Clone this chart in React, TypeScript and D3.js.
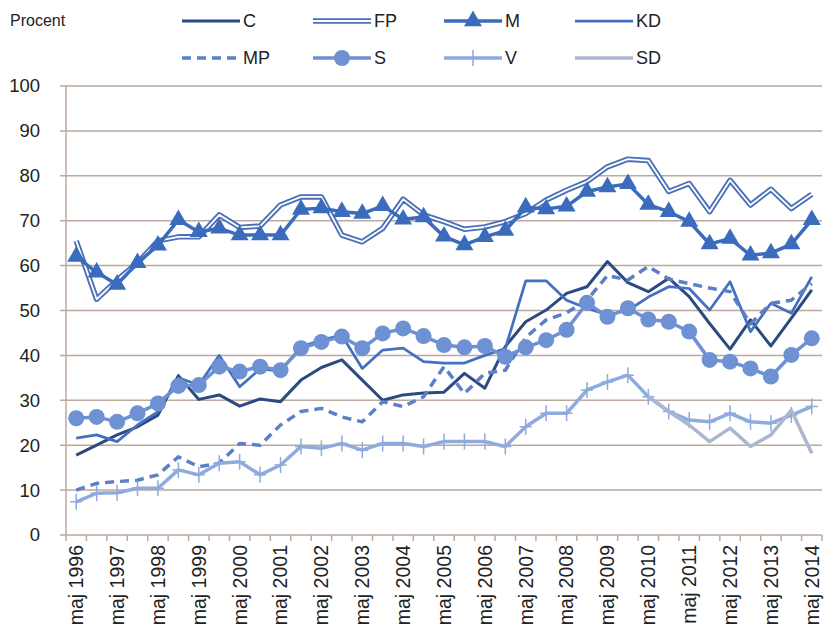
import * as d3 from "d3";
import React, { useEffect, useRef } from "react";

// halvårsmätningar, maj 1996 - maj 2014
const years = d3.range(1996, 2015);
const periods = years.flatMap((y) => (y < 2014 ? [`maj ${y}`, `nov ${y}`] : [`maj ${y}`]));

const C = [17.8, 20, 22.3, 24.1, 26.7, 35.5, 30.2, 31.2, 28.7, 30.3, 29.7, 34.5, 37.3, 39, 34.5, 30, 31.2, 31.6, 31.8, 36, 32.7, 42, 47.5, 50.1, 53.8, 55.3, 60.9, 56.2, 54.2, 57.2, 53.1, 47.1, 41.4, 47.9, 42.1, 48.3, 54.6];
const FP = [65.5, 52.5, 56.8, 60.6, 65.5, 66.4, 66.4, 71.3, 68.5, 68.8, 73.5, 75.3, 75.3, 66.8, 65.3, 68.3, 74.8, 71.3, 69.8, 68.1, 68.6, 69.8, 71.6, 74.6, 76.8, 78.7, 82, 83.7, 83.4, 76.5, 78.3, 72, 79, 73.5, 77, 72.7, 75.9];
const M = [62, 58.5, 55.8, 60.6, 64.5, 70.2, 67.5, 68.3, 66.8, 66.8, 66.8, 72.5, 72.8, 72, 71.6, 73.3, 70.3, 70.8, 66.5, 64.6, 66.4, 67.8, 73, 72.6, 73.2, 76.5, 77.5, 78.2, 73.6, 72, 69.8, 64.8, 66, 62.3, 62.8, 64.8, 70.2];
const KD = [21.6, 22.3, 20.8, 24.5, 27.5, 35, 33.4, 40, 33, 37, 36.5, 41.9, 43.4, 44.5, 37.1, 41.2, 41.6, 38.6, 38.3, 38.3, 40, 41.5, 56.6, 56.6, 52.3, 50.5, 49, 50, 53, 55.3, 54.9, 50.1, 56.4, 45.3, 51.6, 49.4, 57.5];
const MP = [10, 11.5, 11.9, 12.2, 13.4, 17.4, 15.2, 16, 20.4, 20, 24.5, 27.5, 28.2, 26.3, 25.2, 29.7, 28.6, 30.8, 37.5, 31.5, 36, 36.7, 44, 47.9, 49.5, 52.3, 57.8, 56.8, 59.8, 57, 56, 55, 54.2, 47, 51.6, 52.3, 56];
const S = [26, 26.3, 25.2, 27.1, 29.3, 33.2, 33.4, 37.5, 36.4, 37.5, 36.7, 41.6, 43, 44.2, 41.6, 44.9, 46, 44.3, 42.3, 41.8, 42.1, 39.7, 41.8, 43.4, 45.7, 51.7, 48.6, 50.5, 48, 47.5, 45.3, 39, 38.6, 37.1, 35.3, 40.1, 43.8];
const V = [7.4, 9.3, 9.4, 10.4, 10.4, 14.5, 13.4, 16, 16.3, 13.4, 15.6, 19.7, 19.3, 20.4, 18.9, 20.4, 20.4, 19.7, 20.8, 20.8, 20.8, 19.7, 24.1, 27.1, 27.1, 32.3, 34.1, 35.6, 30.8, 27.5, 25.6, 25.2, 27.1, 25.2, 24.9, 26.7, 28.6];
// SD mäts från maj 2010
const SD = [...Array(28).fill(null), 30.8, 27.5, 24.5, 20.8, 23.8, 19.7, 22.3, 27.8, 18.2];

const yTicks = [0, 10, 20, 30, 40, 50, 60, 70, 80, 90, 100];

const series = [
  { name: "C", values: C, color: "#2c4a80", width: 3 },
  { name: "FP", values: FP, color: "#4a70b8", width: 5.5, double: true },
  { name: "M", values: M, color: "#3a6bbd", width: 3.5, marker: "triangle" },
  { name: "KD", values: KD, color: "#4470bf", width: 2.75 },
  { name: "MP", values: MP, color: "#5a80c8", width: 3.5, dash: "9,6" },
  { name: "S", values: S, color: "#6d91d2", width: 3.5, marker: "circle" },
  { name: "V", values: V, color: "#8eaade", width: 3.5, marker: "plus" },
  { name: "SD", values: SD, color: "#aab7cf", width: 3.5 },
];

const width = 824;
const height = 639;
const margin = { top: 86, right: 2, bottom: 104, left: 66 };
const font = "'Liberation Sans', Arial, sans-serif";
const gridColor = "#bba99f";

export default function App() {
  const ref = useRef(null);

  useEffect(() => {
    document.body.style.margin = "0";
    const svg = d3.select(ref.current);
    svg.selectAll("*").remove();

    const x = d3
      .scaleBand()
      .domain(periods)
      .range([margin.left, width - margin.right]);
    const cx = (d) => x(d) + x.bandwidth() / 2;

    const y = d3
      .scaleLinear()
      .domain([0, 100])
      .range([height - margin.bottom, margin.top]);

    // gridlines + y labels
    const grid = svg.append("g");
    grid
      .selectAll("line")
      .data(yTicks)
      .join("line")
      .attr("x1", margin.left - 6)
      .attr("x2", width - margin.right)
      .attr("y1", (d) => y(d))
      .attr("y2", (d) => y(d))
      .attr("stroke", gridColor)
      .attr("stroke-width", 1.5);
    grid
      .selectAll("text")
      .data(yTicks)
      .join("text")
      .attr("x", 40)
      .attr("y", (d) => y(d))
      .attr("dy", "0.35em")
      .attr("text-anchor", "end")
      .attr("font-family", font)
      .attr("font-size", 18.5)
      .attr("fill", "#222")
      .text((d) => d);

    // y axis line
    svg
      .append("line")
      .attr("x1", margin.left)
      .attr("x2", margin.left)
      .attr("y1", y(100))
      .attr("y2", y(0))
      .attr("stroke", gridColor)
      .attr("stroke-width", 1.5);

    // x axis ticks + labels
    const xAxis = svg.append("g");
    xAxis
      .selectAll("line")
      .data(periods.concat(["end"]))
      .join("line")
      .attr("x1", (d, i) => margin.left + i * x.step())
      .attr("x2", (d, i) => margin.left + i * x.step())
      .attr("y1", y(0))
      .attr("y2", y(0) + 6)
      .attr("stroke", gridColor)
      .attr("stroke-width", 1.5);
    xAxis
      .selectAll("text")
      .data(periods.filter((p) => p.startsWith("maj")))
      .join("text")
      .attr("transform", (d) => `translate(${cx(d)},${y(0) + 10}) rotate(-90)`)
      .attr("dy", "0.35em")
      .attr("text-anchor", "end")
      .attr("font-family", font)
      .attr("font-size", 19.5)
      .attr("fill", "#222")
      .text((d) => d);

    const line = d3
      .line()
      .defined((d) => d != null)
      .x((d, i) => cx(periods[i]))
      .y((d) => y(d));

    const drawMarker = (g, type, color, px, py) => {
      if (type === "triangle") {
        g.append("path")
          .attr("d", d3.symbol(d3.symbolTriangle, 140)())
          .attr("transform", `translate(${px},${py})`)
          .attr("fill", color);
      } else if (type === "circle") {
        g.append("circle")
          .attr("cx", px)
          .attr("cy", py)
          .attr("r", 8)
          .attr("fill", color);
      } else if (type === "plus") {
        g.append("path")
          .attr("d", `M${px - 6},${py}H${px + 6}M${px},${py - 8}V${py + 8}`)
          .attr("stroke", color)
          .attr("stroke-width", 1.5);
      }
    };

    const plot = svg.append("g");
    series.forEach((s) => {
      const g = plot.append("g");
      g.append("path")
        .attr("d", line(s.values))
        .attr("fill", "none")
        .attr("stroke", s.color)
        .attr("stroke-width", s.width)
        .attr("stroke-dasharray", s.dash || null)
        .attr("stroke-linejoin", "round");
      if (s.double) {
        g.append("path")
          .attr("d", line(s.values))
          .attr("fill", "none")
          .attr("stroke", "#fff")
          .attr("stroke-width", 1.8)
          .attr("stroke-linejoin", "round");
      }
      if (s.marker) {
        s.values.forEach((v, i) => {
          if (v != null) drawMarker(g, s.marker, s.color, cx(periods[i]), y(v));
        });
      }
    });

    // legend
    svg
      .append("text")
      .attr("x", 10)
      .attr("y", 20)
      .attr("dy", "0.35em")
      .attr("font-family", font)
      .attr("font-size", 16)
      .attr("fill", "#222")
      .text("Procent");

    const legend = svg.append("g");
    series.forEach((s, i) => {
      const lx = 182 + (i % 4) * 131;
      const ly = i < 4 ? 21 : 58;
      const g = legend.append("g");
      g.append("line")
        .attr("x1", lx)
        .attr("x2", lx + 58)
        .attr("y1", ly)
        .attr("y2", ly)
        .attr("stroke", s.color)
        .attr("stroke-width", s.width)
        .attr("stroke-dasharray", s.dash || null);
      if (s.double) {
        g.append("line")
          .attr("x1", lx)
          .attr("x2", lx + 58)
          .attr("y1", ly)
          .attr("y2", ly)
          .attr("stroke", "#fff")
          .attr("stroke-width", 1.8);
      }
      if (s.marker) drawMarker(g, s.marker, s.color, lx + 29, ly);
      g.append("text")
        .attr("x", lx + 61)
        .attr("y", ly)
        .attr("dy", "0.35em")
        .attr("font-family", font)
        .attr("font-size", 18)
        .attr("fill", "#222")
        .text(s.name);
    });
  }, []);

  return <svg ref={ref} width={width} height={height} style={{ display: "block", background: "#fff" }} />;
}
